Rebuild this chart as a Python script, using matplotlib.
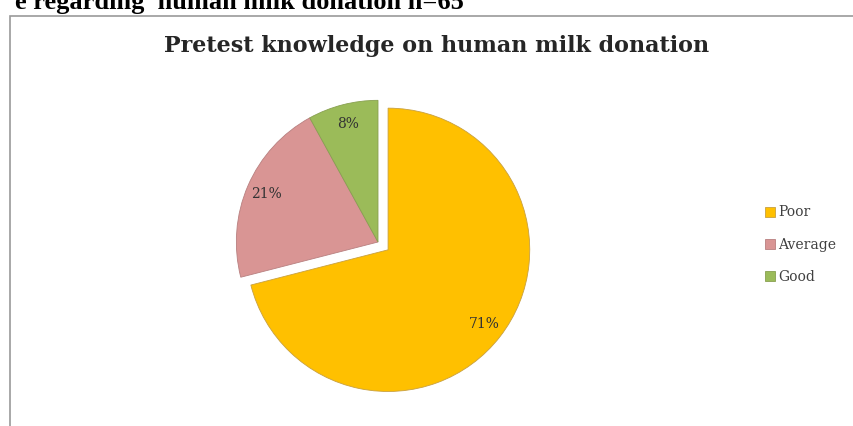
import matplotlib
matplotlib.use("Agg")
import matplotlib.pyplot as plt
from matplotlib.patches import Rectangle

labels = ["Poor", "Average", "Good"]
values = [71, 21, 8]
colors = ["#FFC000", "#D99594", "#9BBB59"]
explode = [0.09, 0, 0]

W, H = 854, 426
fig = plt.figure(figsize=(W / 100, H / 100), dpi=100)
fig.patch.set_facecolor("white")

# chart frame (cut by the page crop on the right and bottom)
fig.patches.append(Rectangle((10 / W, -0.1), 1.1, (H - 16) / H + 0.1,
                             transform=fig.transFigure, fill=False,
                             edgecolor="#9a9a9a", linewidth=1.2))

# document caption, cut at the top edge of the crop
fig.text(464 / W, 1 - 9 / H, "e regarding  human milk donation n=65",
         ha="right", va="baseline", fontsize=19, fontweight="bold",
         family="Liberation Serif", color="black")

fig.text(437 / W, 1 - 46 / H, "Pretest knowledge on human milk donation",
         ha="center", va="center", fontsize=16, fontweight="bold",
         family="DejaVu Serif", color="#262626")

ax = fig.add_axes([208 / W, 14 / H, 340 / W, 340 / H])
wedges, texts, autotexts = ax.pie(
    values, colors=colors, explode=explode, startangle=90, counterclock=False,
    autopct="%d%%", pctdistance=0.86,
    wedgeprops=dict(edgecolor="#c8a040", linewidth=0.6),
    textprops=dict(fontsize=10, family="DejaVu Serif", color="#333333"))
wedges[1].set_edgecolor("#b88080")
wedges[2].set_edgecolor("#88a050")
ax.set_xlim(-1.2, 1.2)
ax.set_ylim(-1.2, 1.2)
ax.set_aspect("equal")

leg = fig.legend(wedges, labels, loc="upper left",
                 bbox_to_anchor=(753 / W, 1 - 193 / H), frameon=False,
                 handlelength=0.7, handleheight=0.7, handletextpad=0.2,
                 labelspacing=1.3, prop=dict(family="DejaVu Serif", size=10))
for t in leg.get_texts():
    t.set_color("#404040")

fig.savefig("out.png", dpi=100)
